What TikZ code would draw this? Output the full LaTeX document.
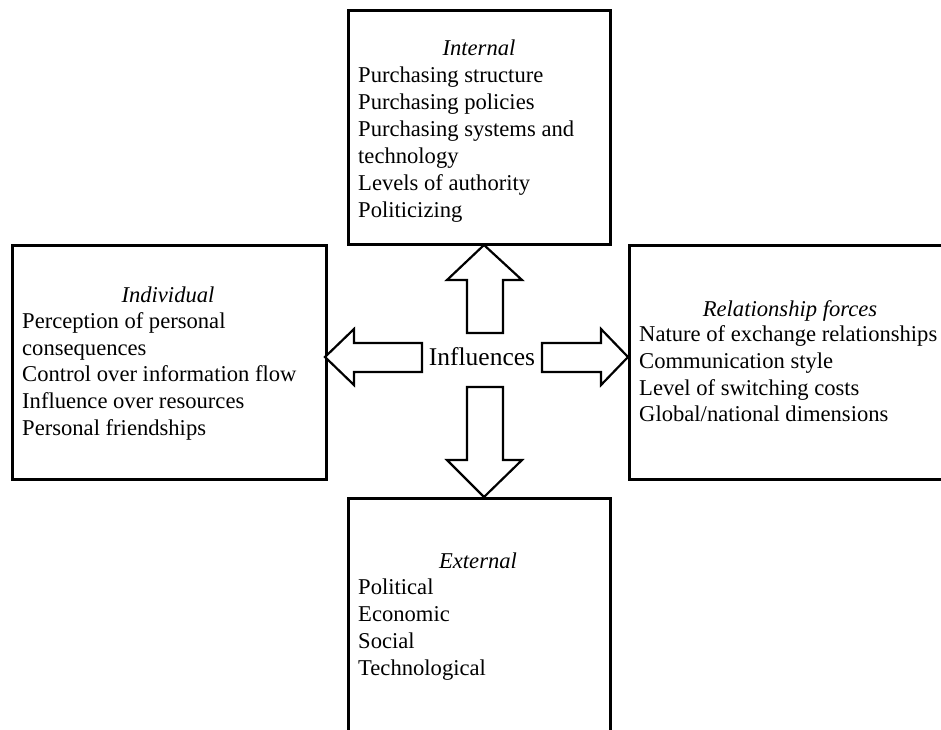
\documentclass[tikz,border=0pt]{standalone}
\usepackage{fontspec}
\setmainfont{Liberation Serif}
\begin{document}
\begin{tikzpicture}[x=1pt,y=-1pt]
\tikzset{
  frame/.style={draw=black,line width=2.5pt,rectangle,inner sep=0pt,anchor=north west},
  head/.style={font=\fontsize{22.6}{27}\selectfont\itshape,anchor=base,inner sep=0pt},
  item/.style={font=\fontsize{22.6}{27}\selectfont,anchor=base west,inner sep=0pt},
  blockarrow/.style={draw=black,line width=2.2pt,fill=white,line join=miter}
}
\useasboundingbox (0,0) rectangle (941,729);
\clip (0,0) rectangle (941,729);

% boxes
\node[frame,minimum width=262pt,minimum height=234pt] (internal) at (347,9) {};
\node[frame,minimum width=314pt,minimum height=234pt] (individual) at (11,244) {};
\node[frame,minimum width=330pt,minimum height=234pt] (relforces) at (628,244) {};
\node[frame,minimum width=262pt,minimum height=260pt] (external) at (347,497) {};

% internal
\node[head] (intH) at (479,55) {Internal};
\foreach \t [count=\i] in {Purchasing structure,Purchasing policies,Purchasing systems and,technology,Levels of authority,Politicizing}
  \node[item] (int\i) at (358,{55+27.1*\i}) {\t};

% individual
\node[head] (indH) at (168,302) {Individual};
\foreach \t [count=\i] in {Perception of personal,consequences,Control over information flow,Influence over resources,Personal friendships}
  \node[item] (ind\i) at (22,{302+26.6*\i}) {\t};

% relationship forces
\node[head] (relH) at (790,316) {Relationship forces};
\foreach \t [count=\i] in {Nature of exchange relationships,Communication style,Level of switching costs,Global/national dimensions}
  \node[item] (rel\i) at (639,{315+26.7*\i}) {\t};

% external
\node[head] (extH) at (478,568) {External};
\foreach \t [count=\i] in {Political,Economic,Social,Technological}
  \node[item] (ext\i) at (358,{568+26.8*\i}) {\t};

% centre
\node[font=\fontsize{25.5}{30}\selectfont,anchor=base,inner sep=0pt] (infl) at (482,365) {Influences};

% block arrows
\coordinate (upTip) at (484,245);
\coordinate (downTip) at (484,497);
\coordinate (leftTip) at (325,357);
\coordinate (rightTip) at (628,357);
\draw[blockarrow] (upTip) -- (522,280) -- (503,280) -- (503,333) -- (467,333) -- (467,280) -- (447,280) -- cycle;
\draw[blockarrow] (downTip) -- (522,460) -- (503,460) -- (503,387) -- (467,387) -- (467,460) -- (447,460) -- cycle;
\draw[blockarrow] (leftTip) -- (354,329) -- (354,343) -- (422,343) -- (422,372) -- (354,372) -- (354,385) -- cycle;
\draw[blockarrow] (rightTip) -- (601,329) -- (601,343) -- (542,343) -- (542,372) -- (601,372) -- (601,385) -- cycle;
\end{tikzpicture}
\end{document}
